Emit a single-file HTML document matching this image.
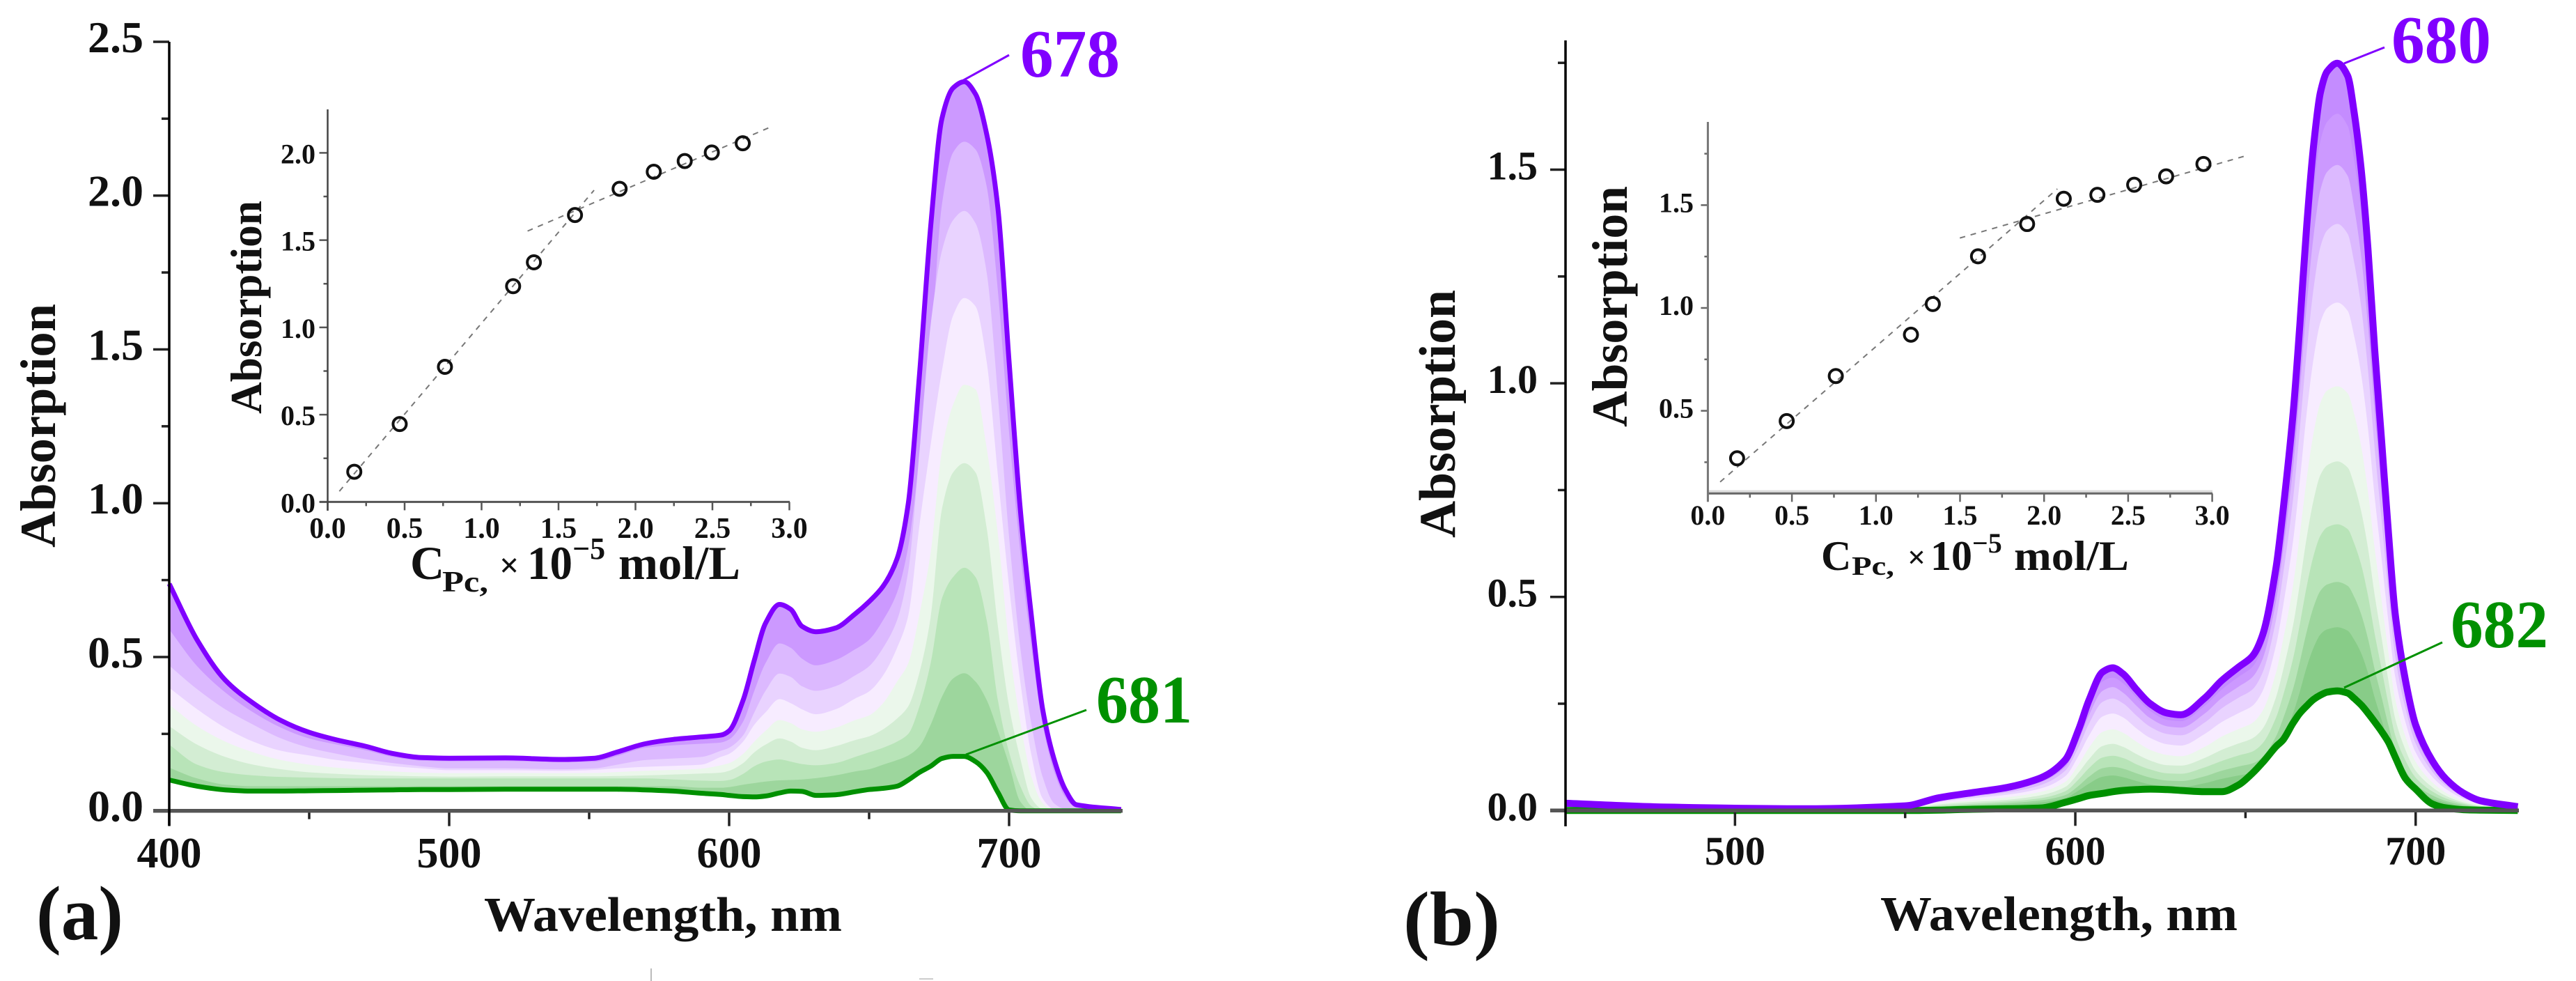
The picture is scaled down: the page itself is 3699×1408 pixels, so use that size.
<!DOCTYPE html>
<html lang="en">
<head>
<meta charset="utf-8">
<title>Absorption spectra (a) and (b)</title>
<style>
html,body{margin:0;padding:0;background:#fff;}
svg{display:block;}
text{font-family:"Liberation Serif",serif;font-weight:bold;fill:#111;}
</style>
</head>
<body>
<svg id="figure" xmlns="http://www.w3.org/2000/svg" width="3699" height="1408" viewBox="0 0 3699 1408">
  <rect x="0" y="0" width="3699" height="1408" fill="#fff"/>
  <g id="panelA"></g>
  <g id="panelB"></g>
  <g id="insetA"></g>
  <g id="insetB"></g>

  <text transform="translate(79,611) rotate(-90)" text-anchor="middle" font-size="72" textLength="350" lengthAdjust="spacingAndGlyphs">Absorption</text>
  <text x="695" y="1336" font-size="70" textLength="514" lengthAdjust="spacingAndGlyphs">Wavelength, nm</text>
  <text x="52" y="1348" font-size="110" textLength="125" lengthAdjust="spacingAndGlyphs">(a)</text>
  <line x1="1380" y1="117" x2="1449" y2="79" stroke="#8000ff" stroke-width="3"/>
  <text x="1465" y="110" font-size="98" style="fill:#8000ff" textLength="143" lengthAdjust="spacingAndGlyphs">678</text>
  <line x1="1387" y1="1083" x2="1560" y2="1019" stroke="#009000" stroke-width="3"/>
  <text x="1574" y="1037" font-size="98" style="fill:#009000" textLength="138" lengthAdjust="spacingAndGlyphs">681</text>

  <text transform="translate(375,441) rotate(-90)" text-anchor="middle" font-size="64" textLength="306" lengthAdjust="spacingAndGlyphs">Absorption</text>
  <g>
    <text x="589" y="831" font-size="68">C</text>
    <text x="635" y="849" font-size="42" textLength="66" lengthAdjust="spacingAndGlyphs">Pc,</text>
    <text x="717" y="828" font-size="50">×</text>
    <text x="757" y="831" font-size="68" textLength="65" lengthAdjust="spacingAndGlyphs">10</text>
    <text x="822" y="802" font-size="44">−5</text>
    <text x="888" y="831" font-size="68" textLength="175" lengthAdjust="spacingAndGlyphs">mol/L</text>
  </g>

  <text transform="translate(2089,594) rotate(-90)" text-anchor="middle" font-size="74" textLength="356" lengthAdjust="spacingAndGlyphs">Absorption</text>
  <text x="2700" y="1335" font-size="70" textLength="513" lengthAdjust="spacingAndGlyphs">Wavelength, nm</text>
  <text x="2015" y="1356" font-size="110" textLength="139" lengthAdjust="spacingAndGlyphs">(b)</text>
  <line x1="3366" y1="91" x2="3424" y2="68" stroke="#8000ff" stroke-width="3"/>
  <text x="3434" y="90" font-size="98" style="fill:#8000ff" textLength="143" lengthAdjust="spacingAndGlyphs">680</text>
  <line x1="3366" y1="987" x2="3507" y2="922" stroke="#009000" stroke-width="3"/>
  <text x="3519" y="929" font-size="98" style="fill:#009000" textLength="140" lengthAdjust="spacingAndGlyphs">682</text>

  <text transform="translate(2336,440) rotate(-90)" text-anchor="middle" font-size="72" textLength="346" lengthAdjust="spacingAndGlyphs">Absorption</text>
  <g>
    <text x="2615" y="818" font-size="60">C</text>
    <text x="2659" y="825" font-size="38" textLength="61" lengthAdjust="spacingAndGlyphs">Pc,</text>
    <text x="2739" y="815" font-size="46">×</text>
    <text x="2772" y="818" font-size="60" textLength="60" lengthAdjust="spacingAndGlyphs">10</text>
    <text x="2832" y="793" font-size="40">−5</text>
    <text x="2892" y="818" font-size="60" textLength="165" lengthAdjust="spacingAndGlyphs">mol/L</text>
  </g>

  <line x1="935" y1="1390" x2="935" y2="1408" stroke="#bbb" stroke-width="2"/>
  <line x1="1320" y1="1405" x2="1340" y2="1405" stroke="#ccc" stroke-width="2"/>
</svg>

<script>
// ---------- Panel (a) data ----------
const aWavelengths = [400,410,420,430,440,450,460,470,480,490,
  500,520,540,552,560,570,580,590,597,600,
  605,609,613,618,622,626,631,638,645,650,
  655,660,664,668,672,676,680,684,688,692,
  696,700,704,708,712,716,720,724,740];
const aSeries0 = [.738,.555,.425,.35,.293,.255,.23,.21,.186,.173,
  .171,.172,.167,.171,.191,.218,.232,.24,.246,.26,
  .36,.49,.61,.671,.655,.60,.582,.594,.64,.68,
  .73,.82,1.0,1.42,1.9,2.25,2.35,2.37,2.33,2.2,
  1.96,1.46,.98,.63,.33,.17,.07,.02,.004];
const aSeries1 = [.59,.47,.385,.32,.27,.235,.215,.197,.175,.163,
  .161,.162,.158,.16,.178,.205,.213,.218,.222,.232,
  .29,.39,.48,.544,.53,.495,.473,.49,.525,.556,
  .62,.71,.86,1.15,1.5,1.97,2.14,2.175,2.15,2.03,
  1.69,1.23,.84,.53,.28,.13,.045,.01,0];
const aSeries2 = [.472,.395,.33,.28,.235,.205,.185,.168,.155,.145,
  .138,.138,.135,.138,.15,.165,.17,.175,.195,.205,
  .245,.32,.39,.446,.435,.405,.39,.405,.44,.47,
  .53,.62,.78,1.17,1.58,1.82,1.92,1.95,1.91,1.75,
  1.35,.89,.53,.28,.11,.025,.005,0,0];
const aSeries3 = [.40,.33,.27,.225,.195,.18,.165,.155,.145,.138,
  .132,.132,.13,.133,.138,.143,.146,.15,.175,.185,
  .225,.28,.32,.363,.35,.33,.314,.33,.365,.388,
  .44,.53,.635,.93,1.19,1.43,1.61,1.667,1.64,1.46,
  1.09,.73,.42,.18,.04,.005,0,0,0];
const aSeries4 = [.345,.275,.225,.19,.165,.15,.14,.133,.128,.124,
  .122,.123,.122,.123,.126,.13,.133,.137,.148,.155,
  .185,.225,.26,.295,.285,.265,.257,.27,.295,.31,
  .35,.42,.48,.64,.84,1.17,1.32,1.385,1.37,1.18,
  .9,.54,.29,.11,.025,0,0,0,0];
const aSeries5 = [.275,.215,.175,.15,.135,.125,.12,.116,.114,.112,
  .111,.112,.112,.112,.113,.115,.118,.121,.124,.13,
  .155,.19,.215,.235,.225,.205,.197,.21,.23,.242,
  .265,.30,.34,.45,.63,.98,1.1,1.13,1.1,.92,
  .6,.34,.17,.04,.005,0,0,0,0];
const aSeries6 = [.215,.15,.125,.115,.11,.108,.106,.105,.105,.105,
  .105,.105,.105,.105,.105,.105,.102,.098,.097,.1,
  .12,.145,.16,.167,.16,.152,.148,.155,.175,.19,
  .205,.225,.25,.34,.48,.69,.76,.79,.76,.62,
  .36,.19,.08,.015,0,0,0,0,0];
const aSeries7 = [.14,.105,.085,.08,.08,.08,.08,.08,.08,.08,
  .08,.08,.08,.08,.08,.08,.08,.075,.075,.077,
  .085,.09,.095,.099,.1,.102,.106,.115,.128,.135,
  .15,.165,.18,.21,.28,.37,.43,.447,.42,.36,
  .26,.15,.03,0,0,0,0,0,0];
const aSeriesGreen = [.1,.08,.068,.064,.064,.065,.066,.067,.068,.069,
  .069,.07,.07,.07,.07,.068,.064,.057,.053,.05,
  .046,.045,.048,.058,.064,.063,.05,.052,.062,.069,
  .073,.08,.1,.125,.145,.17,.177,.177,.16,.125,
  .06,.003,0,0,0,0,0,0,0];
const aXTicks = [400,450,500,550,600,650,700];
const aXTickLabels = ["400","","500","","600","","700"];
const aYTicks = [0,.25,.5,.75,1,1.25,1.5,1.75,2,2.25,2.5];
const aYTickLabels = ["0.0","","0.5","","1.0","","1.5","","2.0","","2.5"];

// ---------- Panel (b) data ----------
const bWavelengths = [450,480,520,550,560,570,580,590,597,601,
  604,608,611,614,618,622,627,631,638,643,
  648,652,655,659,661,664,666,668,670,672,
  674,677,680,682,684,686,688,690,692,694,
  697,700,705,709,714,719,730];
const bSeries0 = [.017,.008,.004,.011,.03,.042,.054,.077,.118,.19,
  .258,.324,.334,.32,.283,.25,.228,.224,.263,.304,
  .336,.361,.41,.57,.70,.93,1.14,1.37,1.555,1.68,
  1.73,1.749,1.72,1.63,1.50,1.314,1.075,.865,.65,.46,
  .305,.20,.115,.073,.041,.023,.009];
const bSeries1 = [.016,.007,.004,.01,.028,.039,.05,.072,.11,.177,
  .24,.302,.311,.298,.264,.233,.212,.209,.245,.283,
  .313,.336,.382,.531,.652,.867,1.062,1.277,1.449,1.566,
  1.612,1.631,1.603,1.519,1.398,1.225,1.002,.806,.606,.429,
  .284,.186,.107,.068,.038,.021,.008];
const bSeries2 = [.015,.007,.003,.01,.026,.036,.047,.067,.102,.164,
  .223,.28,.289,.276,.245,.216,.197,.194,.227,.263,
  .29,.312,.354,.492,.605,.804,.985,1.184,1.344,1.452,
  1.495,1.511,1.486,1.408,1.296,1.135,.929,.747,.562,.397,
  .264,.173,.099,.063,.035,.02,.008];
const bSeries3 = [.013,.006,.003,.009,.024,.033,.042,.06,.093,.149,
  .203,.254,.262,.251,.222,.196,.179,.176,.206,.239,
  .264,.283,.322,.447,.55,.73,.895,1.075,1.221,1.319,
  1.358,1.373,1.35,1.28,1.178,1.031,.844,.679,.51,.361,
  .239,.157,.09,.057,.032,.018,.007];
const bSeries4 = [.012,.005,.003,.007,.02,.029,.037,.052,.08,.129,
  .175,.22,.227,.218,.192,.17,.155,.152,.179,.207,
  .228,.245,.279,.388,.476,.632,.775,.932,1.057,1.142,
  1.176,1.189,1.17,1.108,1.02,.894,.731,.588,.442,.313,
  .207,.136,.078,.05,.028,.016,.006];
const bSeries5 = [.01,.005,.002,.006,.017,.024,.031,.044,.067,.108,
  .147,.184,.19,.182,.161,.142,.13,.127,.149,.173,
  .191,.205,.233,.324,.398,.528,.648,.778,.883,.954,
  .983,.993,.977,.926,.852,.746,.611,.491,.369,.261,
  .173,.114,.065,.041,.023,.013,.005];
const bSeries6 = [.008,.004,.002,.005,.014,.02,.025,.036,.055,.089,
  .12,.151,.156,.149,.132,.117,.106,.105,.123,.142,
  .157,.169,.191,.266,.327,.434,.532,.64,.726,.785,
  .808,.817,.803,.761,.70,.614,.502,.404,.304,.215,
  .142,.093,.054,.034,.019,.011,.004];
const bSeries7 = [.007,.003,.002,.004,.011,.016,.021,.029,.045,.073,
  .099,.124,.128,.123,.108,.096,.087,.086,.101,.116,
  .129,.138,.157,.218,.268,.356,.437,.525,.596,.643,
  .663,.67,.659,.624,.575,.503,.412,.331,.249,.176,
  .117,.077,.044,.028,.016,.009,.003];
const bSeries8 = [.005,.002,.001,.003,.009,.013,.017,.024,.036,.058,
  .079,.099,.102,.098,.087,.077,.07,.069,.08,.093,
  .103,.11,.125,.174,.214,.285,.349,.419,.476,.514,
  .529,.535,.526,.499,.459,.402,.329,.265,.199,.141,
  .093,.061,.035,.022,.013,.007,.003];
const bSeries9 = [.004,.002,.001,.003,.007,.01,.013,.019,.029,.047,
  .063,.079,.082,.078,.069,.061,.056,.055,.064,.074,
  .082,.088,.1,.14,.172,.228,.279,.336,.381,.412,
  .424,.429,.421,.399,.368,.322,.263,.212,.159,.113,
  .075,.049,.028,.018,.01,.006,.002];
const bSeriesGreen = [0,0,0,0,.001,.003,.004,.006,.019,.028,
  .035,.04,.044,.047,.049,.05,.049,.047,.044,.044,
  .06,.087,.112,.15,.165,.205,.228,.245,.26,.27,
  .277,.28,.275,.262,.247,.228,.207,.185,.16,.125,
  .075,.05,.015,.006,.002,.001,0];
const bXTicks = [500,550,600,650,700];
const bXTickLabels = ["500","","600","","700"];
const bYTicks = [0,.25,.5,.75,1,1.25,1.5,1.75];
const bYTickLabels = ["0.0","","0.5","","1.0","","1.5",""];

// ---------- Inset data ----------
const insetAConc = [.173,.468,.762,1.205,1.34,1.607,1.897,2.119,2.32,2.496,2.697];
const insetAAbs = [.173,.446,.774,1.236,1.373,1.644,1.794,1.892,1.953,2.002,2.055];
const insetAFitLowC = [.076,1.731];
const insetAFitLowV = [.061,1.786];
const insetAFitHighC = [1.299,2.891];
const insetAFitHighV = [1.552,2.153];
const insetAXTicks = [0,.25,.5,.75,1,1.25,1.5,1.75,2,2.25,2.5,2.75,3];
const insetAXLabels = ["0.0","","0.5","","1.0","","1.5","","2.0","","2.5","","3.0"];
const insetAYTicks = [0,.25,.5,.75,1,1.25,1.5,1.75,2];
const insetAYLabels = ["0.0","","0.5","","1.0","","1.5","","2.0"];

const insetBConc = [.174,.469,.761,1.208,1.338,1.607,1.899,2.117,2.317,2.536,2.726,2.948];
const insetBAbs = [.269,.45,.669,.87,1.019,1.251,1.408,1.531,1.55,1.599,1.64,1.70];
const insetBFitLowC = [.073,2.079];
const insetBFitLowV = [.154,1.579];
const insetBFitHighC = [1.499,3.188];
const insetBFitHighV = [1.34,1.737];
const insetBXTicks = [0,.25,.5,.75,1,1.25,1.5,1.75,2,2.25,2.5,2.75,3];
const insetBXLabels = ["0.0","","0.5","","1.0","","1.5","","2.0","","2.5","","3.0"];
const insetBYTicks = [.25,.5,.75,1,1.25,1.5,1.75];
const insetBYLabels = ["","0.5","","1.0","","1.5",""];

const aFillColors = ["#cc99ff","#dcb9ff","#e9d3ff","#f7ecff","#ebf7eb","#d3edd3","#b8e4b8","#9dd69d","#ffffff"];
const bFillColors = ["#c48cff","#cc99ff","#dcb9ff","#e9d3ff","#f7ecff","#ebf7eb","#d3edd3","#b8e4b8","#9dd69d","#88cc88","#ffffff"];

// ---------- Axis functions ----------
const aX = w => 243 + 4.02 * (w - 400);
const aY = v => 1163.7 - 441.5 * v;
const bX = w => 2247 + 4.887 * (w - 450);
const bY = v => 1163.3 - 613.2 * v;
const iaX = c => 470.5 + 221 * c;
const iaY = v => 720.4 - 250.5 * v;
const ibX = c => 2452.4 + 241.4 * c;
const ibY = v => 737.2 - 295.2 * v;

const NS = "http://www.w3.org/2000/svg";
function make(tag, parent, attrs) {
  const el = document.createElementNS(NS, tag);
  for (const k in attrs) el.setAttribute(k, attrs[k]);
  parent.appendChild(el);
  return el;
}

// monotone cubic path through data points
function smoothPath(xs, ys) {
  const n = xs.length, d = [], m = [];
  for (let i = 0; i < n - 1; i++) d.push((ys[i + 1] - ys[i]) / (xs[i + 1] - xs[i]));
  m.push(d[0]);
  for (let i = 1; i < n - 1; i++) m.push(d[i - 1] * d[i] <= 0 ? 0 : 2 * d[i - 1] * d[i] / (d[i - 1] + d[i]));
  m.push(d[n - 2]);
  let p = "M" + xs[0].toFixed(1) + " " + ys[0].toFixed(1);
  for (let i = 0; i < n - 1; i++) {
    const h = (xs[i + 1] - xs[i]) / 3;
    p += "C" + (xs[i] + h).toFixed(1) + " " + (ys[i] + m[i] * h).toFixed(1) + " " +
      (xs[i + 1] - h).toFixed(1) + " " + (ys[i + 1] - m[i + 1] * h).toFixed(1) + " " +
      xs[i + 1].toFixed(1) + " " + ys[i + 1].toFixed(1);
  }
  return p;
}

function drawSpectra(group, prefix, waves, seriesList, fills, xFn, yFn, lineWidth) {
  const xs = waves.map(xFn);
  const base = yFn(0);
  seriesList.forEach((vals, idx) => {
    const ys = vals.map(yFn);
    const fill = make("path", group, {
      d: smoothPath(xs, ys) + "L" + xs[xs.length - 1].toFixed(1) + " " + base + "L" + xs[0].toFixed(1) + " " + base + "Z",
      fill: fills[idx]
    });
    
    
  });
  const top = seriesList[0], bottom = seriesList[seriesList.length - 1];
  const greenLine = make("path", group, {
    d: smoothPath(xs, bottom.map(yFn)), fill: "none", stroke: "#009000",
    "stroke-width": lineWidth, "stroke-linejoin": "round"
  });
  
  
  const purpleLine = make("path", group, {
    d: smoothPath(xs, top.map(yFn)), fill: "none", stroke: "#8000ff",
    "stroke-width": lineWidth, "stroke-linejoin": "round"
  });
  
  
}

function drawAxes(group, prefix, o) {
  for (let i = 0; i < o.xTicks.length; i++) {
    const px = o.x(o.xTicks[i]);
    const major = o.xLabels[i] !== "";
    const t = make("line", group, {
      x1: px, x2: px, y1: o.yBase, y2: o.yBase + (major ? o.xMajor : o.xMinor),
      stroke: o.tickColor, "stroke-width": o.tickWidth
    });
    
    
    if (!major) continue;
    const lab = make("text", group, {
      x: px, y: o.xLabelY, "text-anchor": "middle", "font-size": o.xFont
    });
    
    
    lab.textContent = o.xLabels[i];
  }
  for (let i = 0; i < o.yTicks.length; i++) {
    const py = o.y(o.yTicks[i]);
    const major = o.yLabels[i] !== "";
    const t = make("line", group, {
      x1: o.xBase - (major ? o.yMajor : o.yMinor), x2: o.xBase, y1: py, y2: py,
      stroke: o.tickColor, "stroke-width": o.tickWidth
    });
    
    
    if (!major) continue;
    const lab = make("text", group, {
      x: o.yLabelX, y: py + o.yLabelDy, "text-anchor": "end", "font-size": o.yFont
    });
    
    
    lab.textContent = o.yLabels[i];
  }
  const xAxis = make("line", group, {
    x1: o.xStart, x2: o.xEnd, y1: o.yBase, y2: o.yBase, stroke: o.xAxisColor, "stroke-width": o.xAxisWidth
  });
  
  
  const yAxis = make("line", group, {
    x1: o.xBase, x2: o.xBase, y1: o.yTop, y2: o.yBottom, stroke: o.yAxisColor, "stroke-width": o.yAxisWidth
  });
  
  
}

function drawInset(group, prefix, conc, abs, fits, xFn, yFn) {
  fits.forEach(f => {
    const l = make("line", group, {
      x1: xFn(f[0][0]), y1: yFn(f[1][0]), x2: xFn(f[0][1]), y2: yFn(f[1][1]),
      stroke: "#777", "stroke-width": 2, "stroke-dasharray": "8 8"
    });
    
    
  });
  conc.forEach((c, i) => {
    const pt = make("circle", group, {
      cx: xFn(c), cy: yFn(abs[i]), r: 9.5, fill: "none", stroke: "#111", "stroke-width": 4
    });
    
    
  });
}

// ---------- Draw ----------
const gA = document.getElementById("panelA");
const gB = document.getElementById("panelB");
const gIA = document.getElementById("insetA");
const gIB = document.getElementById("insetB");

drawSpectra(gA, "panel-a", aWavelengths,
  [aSeries0,aSeries1,aSeries2,aSeries3,aSeries4,aSeries5,aSeries6,aSeries7,aSeriesGreen],
  aFillColors, aX, aY, 7);
drawAxes(gA, "panel-a", {
  x: aX, y: aY, xTicks: aXTicks, xLabels: aXTickLabels, yTicks: aYTicks, yLabels: aYTickLabels,
  yBase: 1163.7, xBase: 243, xStart: 220, xEnd: 1612, yTop: 60, yBottom: 1185,
  xMajor: 22, xMinor: 12, yMajor: 23, yMinor: 11, xLabelY: 1245, xFont: 62, yLabelX: 206, yLabelDy: 15, yFont: 64,
  tickColor: "#222", tickWidth: 3.5, xAxisColor: "#555", xAxisWidth: 5.5, yAxisColor: "#000", yAxisWidth: 3.5
});

drawSpectra(gB, "panel-b", bWavelengths,
  [bSeries0,bSeries1,bSeries2,bSeries3,bSeries4,bSeries5,bSeries6,bSeries7,bSeries8,bSeries9,bSeriesGreen],
  bFillColors, bX, bY, 10);
drawAxes(gB, "panel-b", {
  x: bX, y: bY, xTicks: bXTicks, xLabels: bXTickLabels, yTicks: bYTicks, yLabels: bYTickLabels,
  yBase: 1163.3, xBase: 2248, xStart: 2226, xEnd: 3617, yTop: 58, yBottom: 1186,
  xMajor: 22, xMinor: 11, yMajor: 22, yMinor: 11, xLabelY: 1241, xFont: 58, yLabelX: 2208, yLabelDy: 14, yFont: 58,
  tickColor: "#222", tickWidth: 3.5, xAxisColor: "#555", xAxisWidth: 5.5, yAxisColor: "#000", yAxisWidth: 3.5
});

drawAxes(gIA, "panel-a-inset", {
  x: iaX, y: iaY, xTicks: insetAXTicks, xLabels: insetAXLabels, yTicks: insetAYTicks, yLabels: insetAYLabels,
  yBase: 720.4, xBase: 470.5, xStart: 459, xEnd: 1134, yTop: 157, yBottom: 733,
  xMajor: 12, xMinor: 6, yMajor: 12, yMinor: 6, xLabelY: 772, xFont: 42, yLabelX: 453, yLabelDy: 15, yFont: 40,
  tickColor: "#555", tickWidth: 2.5, xAxisColor: "#555", xAxisWidth: 3, yAxisColor: "#444", yAxisWidth: 2.5
});
drawInset(gIA, "panel-a-inset", insetAConc, insetAAbs,
  [[insetAFitLowC, insetAFitLowV], [insetAFitHighC, insetAFitHighV]], iaX, iaY);

const bInsetBand = make("line", gIB, {x1: 2452, x2: 3177, y1: 705.5, y2: 705.5, stroke: "#ddd", "stroke-width": 4});


drawAxes(gIB, "panel-b-inset", {
  x: ibX, y: ibY, xTicks: insetBXTicks, xLabels: insetBXLabels, yTicks: insetBYTicks, yLabels: insetBYLabels,
  yBase: 708.3, xBase: 2452.4, xStart: 2452.4, xEnd: 3177, yTop: 175, yBottom: 720,
  xMajor: 12, xMinor: 6, yMajor: 10, yMinor: 5, xLabelY: 753, xFont: 40, yLabelX: 2432, yLabelDy: 10, yFont: 40,
  tickColor: "#666", tickWidth: 2.5, xAxisColor: "#666", xAxisWidth: 3, yAxisColor: "#777", yAxisWidth: 3
});
drawInset(gIB, "panel-b-inset", insetBConc, insetBAbs,
  [[insetBFitLowC, insetBFitLowV], [insetBFitHighC, insetBFitHighV]], ibX, ibY);
</script>
</body>
</html>
